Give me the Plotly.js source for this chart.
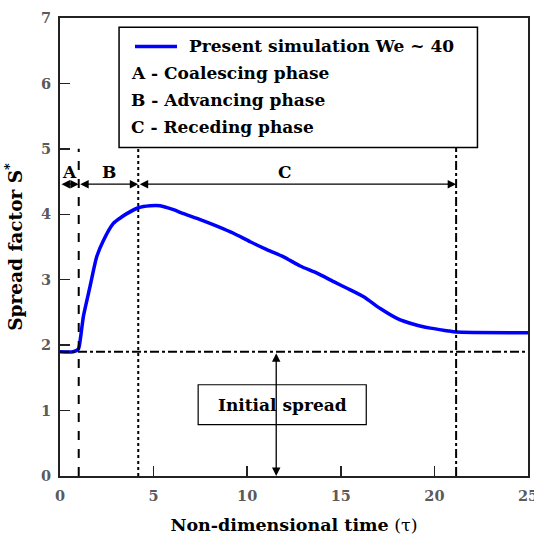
<!DOCTYPE html>
<html>
<head>
<meta charset="utf-8">
<script src="https://cdn.plot.ly/plotly-3.0.1.min.js"></script>
<style>html,body{margin:0;padding:0;background:#fff;}</style>
</head>
<body>
<div id="chart" style="width:534px;height:536px;"></div>
<script>
// Data
const tau = [0, 0.7, 0.98, 1.1, 1.25, 1.6, 1.96, 2.32, 2.85, 3.2, 3.57, 4.19, 4.81, 5.35, 6.06, 6.6, 7.49, 8.38, 9.27, 10.16, 11.05, 11.94, 12.83, 13.73, 14.62, 15.33, 16.22, 17.11, 18.0, 18.89, 19.79, 20.68, 21.16, 25];
const spread = [1.90, 1.90, 1.94, 2.12, 2.44, 2.89, 3.35, 3.60, 3.86, 3.94, 4.01, 4.10, 4.13, 4.13, 4.07, 4.01, 3.92, 3.82, 3.71, 3.58, 3.46, 3.35, 3.21, 3.10, 2.97, 2.87, 2.74, 2.56, 2.41, 2.32, 2.26, 2.22, 2.20, 2.19];
const seriesName = "Present simulation We ~ 40";
const phaseLabels = ["A - Coalescing phase", "B - Advancing phase", "C - Receding phase"];
const phaseLetters = ["A", "B", "C"];
const phaseBounds = [0, 1.0, 4.18, 21.16];
const initialSpread = 1.9;
const xTicks = [0, 5, 10, 15, 20, 25];
const yTicks = [0, 1, 2, 3, 4, 5, 6, 7];

const FONT = "DejaVu Serif, serif";
const arrowY = 4.46;

const shapes = [];
// phase boundary lines
shapes.push({type:'line', xref:'x', yref:'y', x0:phaseBounds[1], x1:phaseBounds[1], y0:0, y1:5.0, line:{color:'black', width:2, dash:'dash'}});
shapes.push({type:'line', xref:'x', yref:'y', x0:phaseBounds[2], x1:phaseBounds[2], y0:0, y1:5.02, line:{color:'black', width:2, dash:'dot'}});
shapes.push({type:'line', xref:'x', yref:'y', x0:phaseBounds[3], x1:phaseBounds[3], y0:0, y1:5.02, line:{color:'black', width:2, dash:'dashdot'}});
// initial spread line
shapes.push({type:'line', xref:'x', yref:'y', x0:0, x1:25, y0:initialSpread, y1:initialSpread, line:{color:'black', width:2, dash:'dashdot'}});
// legend box
shapes.push({type:'rect', xref:'x', yref:'y', x0:3.155, x1:22.3, y0:5.02, y1:6.86, line:{color:'black', width:1.5}, fillcolor:'white', layer:'above'});
// legend sample line
shapes.push({type:'line', xref:'paper', yref:'paper', x0:(135-60)/468, x1:(177-60)/468, y0:(476.5-46)/459, y1:(476.5-46)/459, line:{color:'#0000ff', width:3.5}, layer:'above'});
// Initial spread box
shapes.push({type:'rect', xref:'x', yref:'y', x0:7.38, x1:16.36, y0:0.785, y1:1.395, line:{color:'black', width:1.2}, fillcolor:'rgba(0,0,0,0)', layer:'above'});

const annotations = [];
// legend texts
annotations.push({xref:'paper', yref:'paper', x:(187-60)/468, y:(476.5-46)/459, xanchor:'left', yanchor:'middle', text:'<b>'+seriesName+'</b>', showarrow:false, font:{family:FONT, size:17, color:'black'}});
phaseLabels.forEach((t,i)=>{
  annotations.push({xref:'paper', yref:'paper', x:(129-60)/468, y:(476.5-(73+27*i))/459, xanchor:'left', yanchor:'middle', text:'<b>'+t+'</b>', showarrow:false, font:{family:FONT, size:17, color:'black'}});
});
// phase arrows and letters
for (let i=0;i<3;i++){
  const a = phaseBounds[i], b = phaseBounds[i+1];
  annotations.push({xref:'x', yref:'y', axref:'x', ayref:'y', x:b, y:arrowY, ax:a, ay:arrowY, text:'', showarrow:true, arrowhead:2, startarrowhead:2, arrowside:'end+start', arrowsize:1.3, arrowwidth:1.3, arrowcolor:'black', standoff:0, startstandoff:0});
  const cx = i===0 ? (a+b)/2 : (i===1 ? 2.6 : 12.0);
  annotations.push({xref:'x', yref:'y', x:cx, y:4.64, text:'<b>'+phaseLetters[i]+'</b>', showarrow:false, font:{family:FONT, size:17, color:'black'}});
}
// Initial spread label
annotations.push({xref:'x', yref:'y', x:11.87, y:1.09, text:'<b>Initial spread</b>', showarrow:false, font:{family:FONT, size:17, color:'black'}});
// vertical double arrow
annotations.push({xref:'x', yref:'y', axref:'x', ayref:'y', x:11.55, y:0, ax:11.55, ay:initialSpread, text:'', showarrow:true, arrowhead:2, startarrowhead:2, arrowside:'end+start', arrowsize:1.3, arrowwidth:1.3, arrowcolor:'black', standoff:0, startstandoff:0});

const trace = {x:tau, y:spread, type:'scatter', mode:'lines', line:{color:'#0000ff', width:3.5, shape:'spline', smoothing:0.6}, showlegend:false};

const layout = {
  width:534, height:536,
  margin:{l:60, r:6, t:17.5, b:59.5},
  paper_bgcolor:'white', plot_bgcolor:'white',
  showlegend:false,
  xaxis:{range:[0,25], tickvals:xTicks, ticktext:xTicks.map(String), ticks:'inside', ticklen:10, tickwidth:1.5, tickcolor:'#222',
    showline:true, linecolor:'#222', linewidth:2, mirror:true, showgrid:false, zeroline:false,
    ticklabeloverflow:'allow', ticklabelstandoff:6,
    tickfont:{family:FONT, size:14.5, color:'#5a5a5a', weight:'bold'},
    title:{text:'<b>Non-dimensional time</b> (τ)', font:{family:FONT, size:17.5, color:'black'}, standoff:15}},
  yaxis:{range:[0,7], tickvals:yTicks, ticktext:yTicks.map(String), ticks:'inside', ticklen:10, tickwidth:1.5, tickcolor:'#222',
    showline:true, linecolor:'#222', linewidth:2, mirror:true, showgrid:false, zeroline:false,
    ticklabeloverflow:'allow', ticklabelstandoff:4,
    tickfont:{family:FONT, size:14.5, color:'#5a5a5a', weight:'bold'},
    title:{text:'<b>Spread factor S<sup>*</sup></b>', font:{family:FONT, size:18.5, color:'black'}, standoff:14}},
  shapes:shapes,
  annotations:annotations
};

Plotly.newPlot('chart', [trace], layout, {displayModeBar:false, staticPlot:true});
</script>
</body>
</html>
